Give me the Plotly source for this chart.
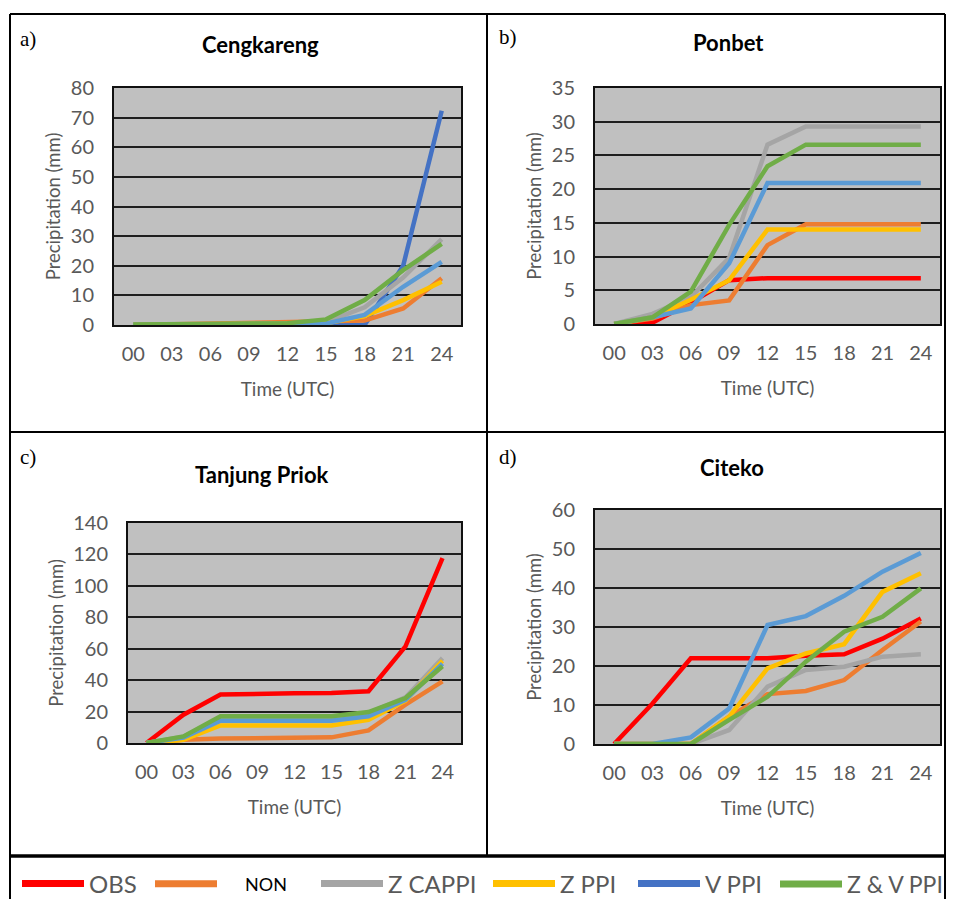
import plotly.graph_objects as go

# page body has an 8px margin, so the figure is sized to fill the 954x907 window
PAGE_W, PAGE_H, OFF = 954, 907, 8
W, H = PAGE_W - 2 * OFF, PAGE_H - 2 * OFF

hours = ["00", "03", "06", "09", "12", "15", "18", "21", "24"]
series_names = ["OBS", "NON", "Z CAPPI", "Z PPI", "V PPI", "Z & V PPI"]

# Cengkareng
cgk_obs = [0, 0, 0, 0, 0, 0, 0, 20, 72.3]
cgk_non = [0, 0.3, 0.5, 0.8, 1.0, 1.2, 1.5, 5.6, 15.8]
cgk_zcappi = [0, 0.1, 0.2, 0.3, 0.5, 1.0, 6.0, 16, 29]
cgk_zppi = [0, 0.1, 0.2, 0.3, 0.4, 0.6, 3.0, 8.4, 14.6]
cgk_vppi = [0, 0.1, 0.1, 0.2, 0.3, 0.5, 3.4, 12.9, 21.3]
cgk_zvppi = [0.2, 0.3, 0.4, 0.5, 0.6, 1.9, 8.4, 18.5, 27.4]

# Ponbet
pon_obs = [0, 0.2, 3.2, 6.5, 6.8, 6.8, 6.8, 6.8, 6.8]
pon_non = [0, 0.8, 2.8, 3.5, 11.7, 14.8, 14.8, 14.8, 14.8]
pon_zcappi = [0, 1.5, 4.0, 9.8, 26.6, 29.3, 29.3, 29.3, 29.3]
pon_zppi = [0, 1.0, 3.6, 6.5, 14.0, 14.0, 14.0, 14.0, 14.0]
pon_vppi = [0, 1.0, 2.3, 9.0, 20.9, 20.9, 20.9, 20.9, 20.9]
pon_zvppi = [0, 1.0, 4.8, 14.7, 23.4, 26.6, 26.6, 26.6, 26.6]

# Tanjung Priok
tp_obs = [0, 18, 30.8, 31.4, 31.6, 31.8, 32.9, 61.5, 117.7]
tp_non = [0, 2, 2.8, 3.0, 3.2, 3.6, 8, 24.4, 39.2]
tp_zcappi = [0, 4, 16, 16, 16, 16, 19, 29, 54]
tp_zppi = [0, 2, 11.2, 11.2, 11.2, 11.2, 14.8, 27, 52.4]
tp_vppi = [0, 3.5, 14.2, 14.2, 14.2, 14.2, 17, 27.5, 50.5]
tp_zvppi = [0, 4.2, 17, 17, 17, 17, 19.7, 28.6, 48.8]

# Citeko
ct_obs = [0, 10.4, 22, 22, 22, 22.6, 23, 27, 32.2]
ct_non = [0, 0, 0, 7, 12.8, 13.6, 16.4, 24.1, 31.4]
ct_zcappi = [0, 0, 0, 3.6, 14.7, 19, 19.8, 22.4, 23]
ct_zppi = [0, 0, 0, 7, 19.4, 23.2, 25.6, 39, 43.8]
ct_vppi = [0, 0, 1.7, 9.1, 30.5, 32.8, 38, 44.2, 49]
ct_zvppi = [0, 0, 0, 6.2, 12.1, 21.1, 28.8, 32.6, 39.9]

stations = ["Cengkareng", "Ponbet", "Tanjung Priok", "Citeko"]
panel_tags = ["a)", "b)", "c)", "d)"]
y_max = [80, 35, 140, 60]
y_step = [10, 5, 20, 10]

panel_data = [
    [cgk_obs, cgk_non, cgk_zcappi, cgk_zppi, cgk_vppi, cgk_zvppi],
    [pon_obs, pon_non, pon_zcappi, pon_zppi, pon_vppi, pon_zvppi],
    [tp_obs, tp_non, tp_zcappi, tp_zppi, tp_vppi, tp_zvppi],
    [ct_obs, ct_non, ct_zcappi, ct_zppi, ct_vppi, ct_zvppi],
]

panel_colors = ["#FF0000", "#ED7D31", "#A5A5A5", "#FFC000", "#5B9BD5", "#70AD47"]
cgk_colors = ["#4472C4", "#ED7D31", "#A5A5A5", "#FFC000", "#5B9BD5", "#70AD47"]
legend_colors = ["#FF0000", "#ED7D31", "#A5A5A5", "#FFC000", "#4472C4", "#70AD47"]


def fx(px):
    return (px - OFF) / W


def fy(py):
    return 1 - (py - OFF) / H


# plot area rectangles in window pixels: (left, top, right, bottom)
boxes = [
    (114, 88, 461, 325),
    (595, 88, 940, 324),
    (128, 523, 461, 743),
    (595, 510, 940, 744),
]

FONT = "Lato"
TICK_COLOR = "#595959"

fig = go.Figure()

for i in range(4):
    ax = "" if i == 0 else str(i + 1)
    cols = cgk_colors if i == 0 else panel_colors
    for name, vals, col in zip(series_names, panel_data[i], cols):
        fig.add_trace(go.Scatter(
            x=hours, y=vals, mode="lines", name=name,
            line=dict(color=col, width=4.5),
            showlegend=False, xaxis="x" + ax, yaxis="y" + ax,
        ))

# legend entries, one small legend per series so each sits where the original puts it
legend_line_start = [21, 154, 320, 492, 637, 779]
legend_labels = list(series_names)
legend_labels[1] = "\u00a0\u00a0\u00a0\u00a0\u00a0NON"
legend_fonts = [dict(family=FONT, size=24, color=TICK_COLOR)] * 6
legend_fonts[1] = dict(family=FONT, size=18, color="#000000")
legend_fonts[5] = dict(family=FONT, size=23, color=TICK_COLOR)

layout = dict(
    width=W, height=H,
    margin=dict(l=0, r=0, t=0, b=0, autoexpand=False),
    paper_bgcolor="white",
    plot_bgcolor="#C0C0C0",
    font=dict(family=FONT, size=18, color=TICK_COLOR),
    showlegend=True,
)

for k, (lab, col) in enumerate(zip(legend_labels, legend_colors)):
    lg = "legend" if k == 0 else "legend" + str(k + 1)
    fig.add_trace(go.Scatter(
        x=[None], y=[None], mode="lines", name=lab,
        line=dict(color=col, width=7), showlegend=True,
        xaxis="x", yaxis="y", legend=lg,
    ))
    layout[lg] = dict(
        orientation="h", x=fx(legend_line_start[k] - 4), y=fy(884),
        xanchor="left", yanchor="middle", itemwidth=62,
        font=legend_fonts[k], bgcolor="rgba(0,0,0,0)",
    )

for i, (l, t, r, b) in enumerate(boxes):
    ax = "" if i == 0 else str(i + 1)
    layout["xaxis" + ax] = dict(
        domain=[fx(l), fx(r)], anchor="y" + ax,
        type="category", range=[-0.5, 8.5],
        showline=True, linecolor="#111111", linewidth=2, mirror=True,
        showgrid=False, zeroline=False, ticks="",
        tickfont=dict(family=FONT, size=20, color=TICK_COLOR),
        ticklabelstandoff=10,
        title=dict(text="Time (UTC)", font=dict(family=FONT, size=19, color=TICK_COLOR), standoff=19),
        fixedrange=True,
    )
    layout["yaxis" + ax] = dict(
        domain=[fy(b), fy(t)], anchor="x" + ax,
        range=[0, y_max[i]], dtick=y_step[i], tick0=0,
        showline=True, linecolor="#111111", linewidth=2, mirror=True,
        showgrid=True, gridcolor="#1E1E1E", gridwidth=1.6,
        zeroline=False, ticks="",
        tickfont=dict(family=FONT, size=20, color=TICK_COLOR),
        ticklabelstandoff=14,
        title=dict(text="Precipitation (mm)", font=dict(family=FONT, size=18.5, color=TICK_COLOR), standoff=5),
        fixedrange=True,
    )

fig.update_layout(**layout)

# titles and panel tags
title_pos = [(260, 44), (728, 42), (262, 475), (732, 467)]
tag_pos = [(18, 39), (497, 37), (18, 457), (497, 457)]
for i in range(4):
    fig.add_annotation(
        x=fx(title_pos[i][0]), y=fy(title_pos[i][1]), xref="paper", yref="paper",
        text="<b>" + stations[i] + "</b>", showarrow=False,
        font=dict(family=FONT, size=22, color="#000000"),
        xanchor="center", yanchor="middle",
    )
    fig.add_annotation(
        x=fx(tag_pos[i][0]), y=fy(tag_pos[i][1]), xref="paper", yref="paper",
        text=panel_tags[i], showarrow=False,
        font=dict(family="Liberation Serif", size=21, color="#000000"),
        xanchor="left", yanchor="middle",
    )

# panel border frame
line_style = dict(color="#000000", width=2)
RIGHT = 945
TOP = 14
shapes = [
    dict(type="line", xref="paper", yref="paper", x0=fx(10), x1=fx(RIGHT), y0=fy(TOP), y1=fy(TOP), line=line_style),
    dict(type="line", xref="paper", yref="paper", x0=fx(10), x1=fx(10), y0=fy(TOP), y1=0, line=line_style),
    dict(type="line", xref="paper", yref="paper", x0=fx(RIGHT), x1=fx(RIGHT), y0=fy(TOP), y1=0, line=line_style),
    dict(type="line", xref="paper", yref="paper", x0=fx(487), x1=fx(487), y0=fy(TOP), y1=fy(856), line=line_style),
    dict(type="line", xref="paper", yref="paper", x0=fx(10), x1=fx(RIGHT), y0=fy(432), y1=fy(432), line=line_style),
    dict(type="line", xref="paper", yref="paper", x0=fx(10), x1=fx(RIGHT), y0=fy(856), y1=fy(856),
         line=dict(color="#000000", width=3.5)),
]
fig.update_layout(shapes=shapes)

fig.write_html("out.html")
